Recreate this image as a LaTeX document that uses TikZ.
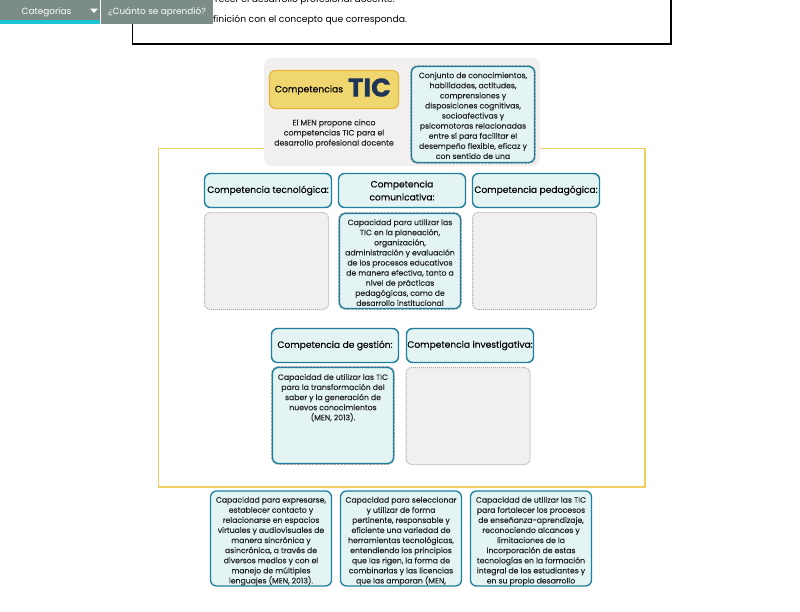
\documentclass[tikz,border=0pt]{standalone}
\usepackage{fontspec}
\setmainfont{Poppins}
\newfontfamily\inkfont[FakeBold=0.12]{Poppins}
\newfontfamily\logofont[FakeBold=0.5]{Poppins}
\newcommand\dropby[1]{\mbox{}\\[#1]}
\definecolor{tealline}{HTML}{1F7F9C}
\definecolor{tealfill}{HTML}{E3F4F3}
\definecolor{panelgray}{HTML}{F1F0EE}
\definecolor{dotgray}{HTML}{A9A9A9}
\definecolor{goldline}{HTML}{F0CE62}
\definecolor{goldfill}{HTML}{F0D66F}
\definecolor{goldedge}{HTML}{E5B53C}
\definecolor{navgray}{HTML}{7C8C89}
\definecolor{navcyan}{HTML}{1CC4D4}
\definecolor{ticblue}{HTML}{1F3557}
\definecolor{inktext}{HTML}{222222}
\tikzset{
  bodytext/.style={font=\inkfont\fontsize{7.7}{10.1}\selectfont, text=inktext, align=center, inner sep=0pt},
  headbox/.style={draw=tealline, line width=1.4pt, fill=tealfill, rounded corners=6pt,
    minimum width=127pt, minimum height=34pt, align=center, inner sep=0pt,
    text=black, font=\inkfont\fontsize{9.1}{13}\selectfont},
  textbox/.style={bodytext, draw=tealline, line width=1.3pt, fill=tealfill, rounded corners=6pt,
    minimum width=121pt, minimum height=95pt},
  droppedbox/.style={textbox, preaction={draw=dotgray, line width=2.6pt, densely dotted}},
  slotbox/.style={draw=dotgray, line width=1pt, densely dotted, fill=panelgray, rounded corners=6pt,
    minimum width=124pt, minimum height=97pt},
  navtab/.style={fill=navgray, text=white, inner sep=0pt, font=\fontsize{8.9}{11}\selectfont},
}
\begin{document}
\begin{tikzpicture}[x=1pt,y=-1pt]
\useasboundingbox (0,0) rectangle (800,611);
\clip (0,0) rectangle (800,611);
\fill[white] (0,0) rectangle (800,611);
% instruction frame
\node[font=\fontsize{9.2}{11}\selectfont, anchor=east, inner sep=0pt] (intro1) at (395,0.5) {recer el desarrollo profesional docente.};
\node[font=\fontsize{9.2}{11}\selectfont, anchor=west, inner sep=0pt] (intro2) at (213,20.5) {finición con el concepto que corresponda.};
\draw[line width=1.2pt] (132.5,-5) -- (132.5,44) -- (671,44) -- (671,-5);
% navigation
\fill[navcyan] (0,20) rectangle (100,23.5);
\fill[navgray] (0,0) rectangle (100,20);
\node[navtab] (categorias) at (46.5,12.5) {Categorías};
\fill[white] (90,8.5) -- (98,8.5) -- (94,13) -- cycle;
\fill[navgray] (101,0) rectangle (213,24);
\node[navtab] (aprendio) at (157,12.5) {¿Cuánto se aprendió?};
% yellow frame
\draw[goldline, line width=1.8pt] (158.5,148.5) rectangle (645,487);
% top panel
\fill[panelgray, rounded corners=8pt] (264,58) rectangle (540,166);
\node[draw=goldedge, line width=1.2pt, fill=goldfill, rounded corners=6pt, minimum width=129pt, minimum height=38pt] (titulo) at (334,89.5) {};
\node[font=\inkfont\fontsize{9.2}{12}\selectfont, inner sep=0pt] (competencias) at (309,90) {Competencias};
\node[font=\logofont\bfseries\fontsize{26}{30}\selectfont, text=ticblue, inner sep=0pt] (tic) at (369.5,87.5) {TIC};
\node[bodytext, font=\inkfont\fontsize{7.8}{10.1}\selectfont] (propone) at (334,133.5) {El MEN propone cinco\\competencias TIC para el\\desarrollo profesional docente};
\node[droppedbox, minimum width=123pt, minimum height=96pt] (conjunto) at (473,114.5) {\dropby{-2pt}Conjunto de conocimientos,\\habilidades, actitudes,\\comprensiones y\\disposiciones cognitivas,\\socioafectivas y\\psicomotoras relacionadas\\entre sí para facilitar el\\desempeño flexible, eficaz y\\con sentido de una};
% first row
\node[headbox] (tecnologica) at (268,190.5) {Competencia tecnológica:};
\node[headbox] (comunicativa) at (402,190.5) {Competencia\\comunicativa:};
\node[headbox] (pedagogica) at (536,190.5) {Competencia pedagógica:};
\node[slotbox] (slottec) at (266.5,261) {};
\node[droppedbox] (planeacion) at (400,261) {\dropby{-1pt}Capacidad para utilizar las\\TIC en la planeación,\\organización,\\administración y evaluación\\de los procesos educativos\\de manera efectiva, tanto a\\nivel de prácticas\\pedagógicas, como de\\desarrollo institucional};
\node[slotbox] (slotped) at (534.5,261) {};
% second row
\node[headbox] (gestion) at (335,345.5) {Competencia de gestión:};
\node[headbox] (investigativa) at (470,345.5) {Competencia investigativa:};
\node[droppedbox, minimum height=96pt] (saber) at (333,415.5) {Capacidad de utilizar las TIC\\para la transformación del\\saber y la generación de\\nuevos conocimientos\\(MEN, 2013).\\[26.6pt]\mbox{}};
\node[slotbox] (slotinv) at (468,416) {};
% answers left over
\node[textbox] (expresarse) at (271,538.5) {\dropby{1pt}Capacidad para expresarse,\\establecer contacto y\\relacionarse en espacios\\virtuales y audiovisuales de\\manera sincrónica y\\asincrónica, a través de\\diversos medios y con el\\manejo de múltiples\\lenguajes (MEN, 2013).};
\node[textbox] (seleccionar) at (401,538.5) {\dropby{1pt}Capacidad para seleccionar\\y utilizar de forma\\pertinente, responsable y\\eficiente una variedad de\\herramientas tecnológicas,\\entendiendo los principios\\que las rigen, la forma de\\combinarlas y las licencias\\que las amparan (MEN,};
\node[textbox] (fortalecer) at (531,538.5) {\dropby{1pt}Capacidad de utilizar las TIC\\para fortalecer los procesos\\de enseñanza-aprendizaje,\\reconociendo alcances y\\limitaciones de la\\incorporación de estas\\tecnologías en la formación\\integral de los estudiantes y\\en su propio desarrollo};
\end{tikzpicture}
\end{document}
